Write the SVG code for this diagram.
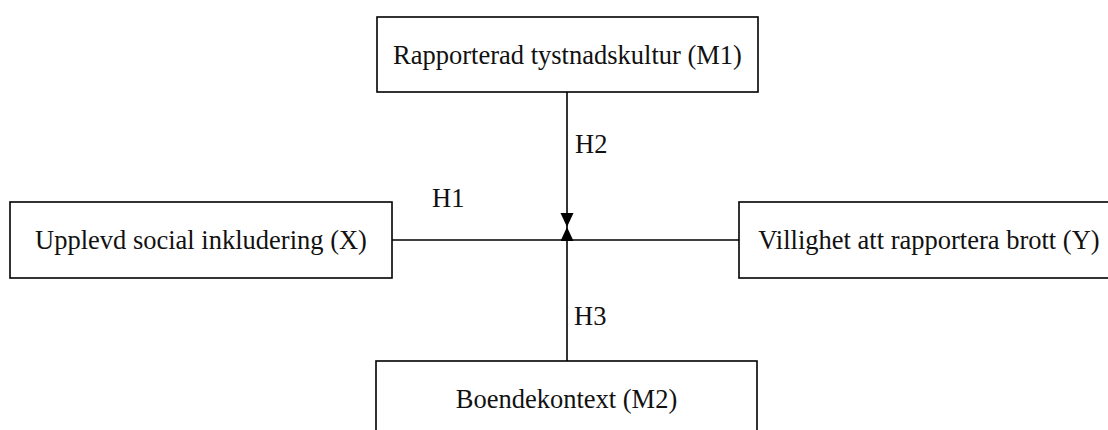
<svg xmlns="http://www.w3.org/2000/svg" width="1108" height="430" viewBox="0 0 1108 430">
<style>
.box{fill:#fff;stroke:#000;stroke-width:1.6}
.t{font-family:"Liberation Serif","Times New Roman",serif;font-size:26.5px;fill:#111;text-anchor:middle}
.l{font-family:"Liberation Serif","Times New Roman",serif;font-size:26.5px;fill:#111}
.c{stroke:#000;stroke-width:1.6;fill:none}
</style>
<defs>
<marker id="ah" markerUnits="userSpaceOnUse" markerWidth="14" markerHeight="14" refX="14" refY="6.5" orient="auto">
<path d="M0,0 L14,6.5 L0,13 Z" fill="#000"/>
</marker>
</defs>
<rect width="1108" height="430" fill="#fff"/>
<g id="connectors">
<line class="c" x1="392" y1="240" x2="739" y2="240"/>
<line class="c" x1="567" y1="92" x2="567" y2="227" marker-end="url(#ah)"/>
<line class="c" x1="567" y1="361" x2="567" y2="227" marker-end="url(#ah)"/>
<text class="l" x="432" y="207">H1</text>
<text class="l" x="575" y="153">H2</text>
<text class="l" x="574" y="325">H3</text>
</g>
<g id="m1">
<rect class="box" x="377" y="17" width="381" height="75"/>
<text class="t" x="567.5" y="64">Rapporterad tystnadskultur (M1)</text>
</g>
<g id="x">
<rect class="box" x="10" y="202" width="382" height="76"/>
<text class="t" x="201" y="249">Upplevd social inkludering (X)</text>
</g>
<g id="y">
<rect class="box" x="739" y="202" width="380" height="76"/>
<text class="t" x="929" y="249">Villighet att rapportera brott (Y)</text>
</g>
<g id="m2">
<rect class="box" x="376" y="361" width="381" height="80"/>
<text class="t" x="566.5" y="408">Boendekontext (M2)</text>
</g>
</svg>
